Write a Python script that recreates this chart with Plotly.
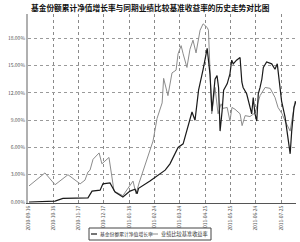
import plotly.graph_objects as go

# ---- data ----
title_text = "基金份额累计净值增长率与同期业绩比较基准收益率的历史走势对比图"
series_names = ["基金份额累计净值增长率", "业绩比较基准收益率"]

tick_pos = [0, 1, 2, 3, 4, 5, 6, 7, 8, 9, 10]
tick_labels = ["2010-09-16", "2010-10-18", "2010-11-17", "2010-12-17", "2011-01-18",
               "2011-02-24", "2011-03-24", "2011-04-25", "2011-05-25", "2011-06-24",
               "2011-07-25"]
y_ticks = [0, 3, 6, 9, 12, 15, 18]
y_tick_labels = ["0.00%", "3.00%", "6.00%", "9.00%", "12.00%", "15.00%", "18.00%"]

bench_t = [0.04, 0.67, 1.07, 1.58, 2.06, 2.25, 2.37, 2.45, 2.57, 2.81,
           2.92, 3.04, 3.20, 3.40, 3.75, 4.15, 4.27, 4.39, 4.82, 4.94,
           5.10, 5.22, 5.30, 5.36, 5.53, 5.69, 5.85, 5.93, 6.05, 6.13,
           6.28, 6.40, 6.52, 6.64, 6.80, 6.92, 7.08, 7.13, 7.19, 7.26,
           7.39, 7.51, 7.63, 7.71, 7.87, 7.98, 8.06, 8.18, 8.38, 8.46,
           8.58, 8.77, 8.97, 9.17, 9.37, 9.57, 9.76, 9.88, 10.04, 10.16,
           10.36, 10.55]
bench_v = [1.77, 3.2, 1.9, 3.0, 2.0, 2.4, 3.3, 3.5, 4.7, 5.4,
           4.2, 4.5, 4.9, 1.2, 0.7, 2.3, 0.9, 2.1, 5.8, 6.7,
           9.2, 10.3, 10.9, 13.6, 11.7, 14.2, 14.5, 16.3, 17.2, 16.3,
           14.8, 16.8, 17.8, 16.4, 18.9, 19.6, 19.2, 18.9, 13.4, 9.7,
           12.6, 9.7, 10.8, 10.3, 10.4, 8.9, 10.4, 10.2, 9.7, 8.4,
           9.5, 9.4, 9.8, 11.7, 12.6, 12.5, 11.5, 10.4, 9.7, 8.9,
           7.8, 11.1]

fund_t = [0.04, 0.47, 1.07, 1.38, 2.37, 2.53, 2.85, 2.96, 3.24, 3.44,
          3.75, 4.03, 4.23, 4.31, 4.37, 4.82, 5.02, 5.22, 5.42, 5.61,
          5.81, 5.93, 6.13, 6.32, 6.48, 6.60, 6.74, 6.92, 7.08, 7.19,
          7.27, 7.39, 7.47, 7.53, 7.59, 7.67, 7.73, 7.87, 7.98, 8.05,
          8.11, 8.24, 8.38, 8.45, 8.50, 8.64, 8.77, 8.84, 8.90, 8.97,
          9.04, 9.10, 9.17, 9.24, 9.30, 9.43, 9.63, 9.76, 9.85, 9.93,
          10.02, 10.16, 10.29, 10.36, 10.42, 10.51, 10.59]
fund_v = [0.0, 0.05, 0.1, 0.4, 0.45, 1.2, 1.3, 2.0, 2.1, 1.1,
          0.55, 1.2, 1.4, 0.9, 1.5, 2.3, 2.7, 3.2, 3.5, 4.2,
          5.3, 6.0, 6.4, 8.4, 9.9, 9.0, 12.3, 14.6, 16.9, 14.1,
          10.0, 13.5, 13.9, 12.6, 7.8, 10.0, 12.3, 13.0, 14.1, 15.6,
          15.2, 15.6, 15.9, 13.2, 12.6, 11.9, 10.4, 9.7, 11.5, 9.7,
          8.9, 11.9, 12.6, 13.5, 14.8, 15.4, 15.2, 14.6, 15.2, 13.4,
          11.1, 9.3, 6.7, 5.3, 7.8, 10.4, 11.1]

# ---- styles ----
fund_color = "#1a1a1a"
bench_color = "#8c8c8c"
font_cjk = "Noto Sans CJK SC"

fig = go.Figure()
fig.add_trace(go.Scatter(x=bench_t, y=bench_v, mode="lines", name=series_names[1],
                         line=dict(color=bench_color, width=1), showlegend=False))
fig.add_trace(go.Scatter(x=fund_t, y=fund_v, mode="lines", name=series_names[0],
                         line=dict(color=fund_color, width=1.2), showlegend=False))

L, R, T, B = 28, 4, 14, 39
W, H = 300, 242
pw, ph = W - L - R, H - T - B

def px_x(px):
    return (px - L) / pw

def px_y(py):
    return (H - B - py) / ph

fig.update_layout(
    width=W, height=H,
    margin=dict(l=L, r=R, t=T, b=B, pad=0),
    paper_bgcolor="white", plot_bgcolor="white",
    font=dict(family=font_cjk, size=5, color="#555"),
    xaxis=dict(range=[0, 10.59], tickvals=tick_pos, ticktext=tick_labels,
               tickangle=-90, showgrid=True, gridcolor="#8a8a8a", griddash="dot",
               gridwidth=1, showline=True, linecolor="#555", linewidth=1,
               zeroline=False, ticks="", tickfont=dict(size=4.8, color="#555"),
               fixedrange=True),
    yaxis=dict(range=[-0.11, 20.68], tickvals=y_ticks, ticktext=y_tick_labels,
               showgrid=True, gridcolor="#9a9a9a", griddash="dot",
               gridwidth=1, showline=True, linecolor="#b0b0b0", linewidth=2,
               zeroline=False, ticks="", tickfont=dict(size=5, color="#555"),
               fixedrange=True),
)

# title
fig.add_annotation(text=title_text, xref="paper", yref="paper",
                   x=px_x(150), y=px_y(8), xanchor="center", yanchor="middle",
                   showarrow=False,
                   font=dict(family=font_cjk, size=7.7, color="#111", weight="bold"))

# manual legend
shapes = []
shapes.append(dict(type="rect", xref="paper", yref="paper",
                   x0=px_x(89), x1=px_x(211), y0=px_y(240), y1=px_y(228),
                   line=dict(color="#444", width=1), fillcolor="white"))
shapes.append(dict(type="line", xref="paper", yref="paper",
                   x0=px_x(91), x1=px_x(97), y0=px_y(234), y1=px_y(234),
                   line=dict(color=fund_color, width=1.2)))
shapes.append(dict(type="line", xref="paper", yref="paper",
                   x0=px_x(151), x1=px_x(158), y0=px_y(234), y1=px_y(234),
                   line=dict(color=bench_color, width=1)))
fig.update_layout(shapes=shapes)
fig.add_annotation(text=series_names[0], xref="paper", yref="paper",
                   x=px_x(98), y=px_y(234), xanchor="left", yanchor="middle",
                   showarrow=False, font=dict(family=font_cjk, size=4.8, color="#333"))
fig.add_annotation(text=series_names[1], xref="paper", yref="paper",
                   x=px_x(159), y=px_y(234), xanchor="left", yanchor="middle",
                   showarrow=False, font=dict(family=font_cjk, size=5.2, color="#333"))

fig.write_html("out.html", config={"displayModeBar": False})
